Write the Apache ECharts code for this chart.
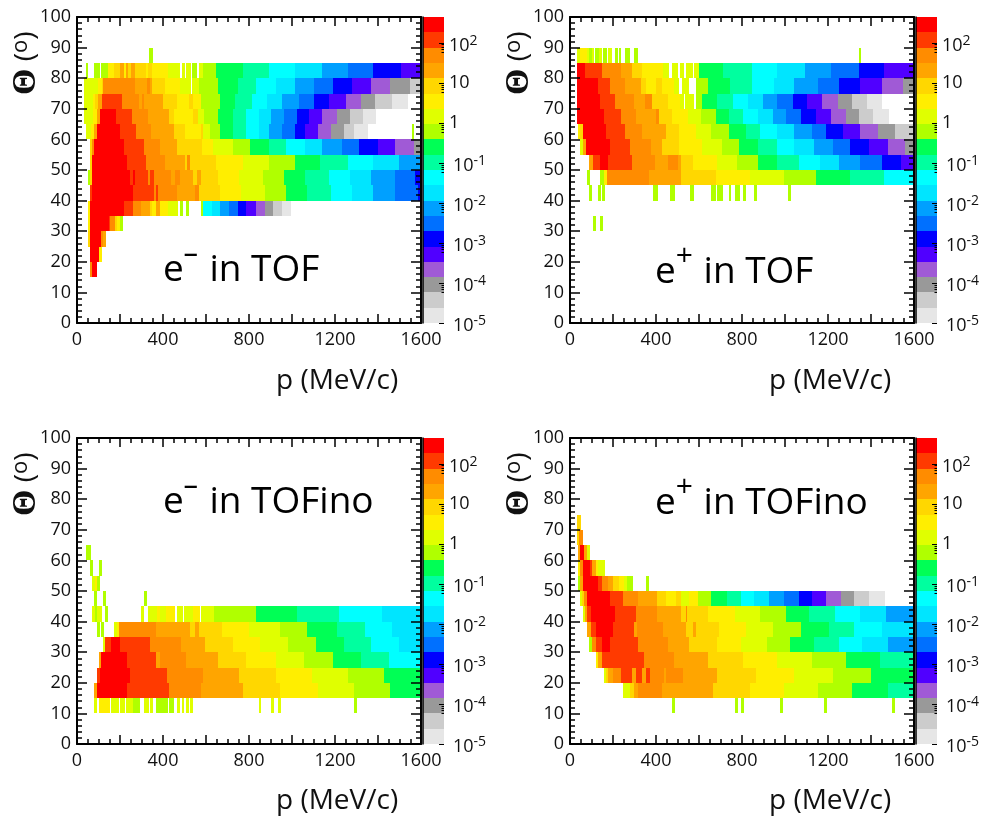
<!DOCTYPE html>
<html>
<head>
<meta charset="utf-8">
<style>html,body{margin:0;padding:0;background:#fff}#c{width:984px;height:817px}</style>
<script src="https://cdn.jsdelivr.net/npm/echarts@6/dist/echarts.min.js"></script>
</head>
<body>
<div id="c"></div>
<script>
// Each row: [theta bin low edge (deg), p edge, colour level, p edge, colour level, ..., p edge]; level -1 = empty
const eMinusTof = [
[85,337,12,353],
[80,40,12,50,-1,78,12,106,-1,112,12,143,14,171,15,199,16,217,14,230,16,239,15,252,16,270,15,320,14,329,15,348,14,424,13,478,-1,488,13,503,-1,509,13,519,-1,522,13,531,-1,537,12,559,-1,568,13,587,12,646,11,770,10,891,9,1013,8,1140,7,1259,6,1376,5,1506,4,1600],
[75,31,13,96,14,115,15,121,17,269,16,326,17,339,16,348,15,408,14,478,13,528,-1,537,13,568,12,655,11,749,10,832,9,926,8,1016,7,1103,6,1191,5,1280,4,1368,3,1457,2,1550,1,1600],
[70,31,13,75,14,84,15,99,16,118,18,208,17,289,16,304,17,311,16,401,15,466,14,522,15,540,14,575,12,665,11,736,10,814,9,885,8,954,7,1033,6,1103,5,1172,4,1252,3,1322,2,1387,1,1466,0,1541],
[65,31,13,75,14,93,16,106,19,180,18,258,17,329,16,426,15,453,14,540,15,565,13,593,12,655,11,727,10,786,9,848,8,901,7,963,6,1023,5,1079,4,1140,3,1210,2,1270,1,1331,0,1391],
[60,40,13,65,14,78,16,93,19,199,18,276,17,346,16,450,15,502,14,575,15,587,13,618,12,665,11,727,10,786,9,848,8,895,7,954,6,1014,5,1061,4,1121,3,1182,2,1242,1,1289,0,1354,-1,1559,12,1569],
[55,59,15,68,17,78,19,217,18,311,17,385,16,466,15,581,14,634,13,727,12,804,11,895,10,972,9,1061,8,1140,7,1233,6,1312,5,1401,4,1480,3,1569,2,1600],
[50,62,15,71,19,233,18,320,17,408,16,502,15,510,17,525,15,646,14,773,13,891,12,1013,11,1131,10,1261,9,1377,8,1499,7,1600],
[45,50,12,59,15,68,19,245,18,261,19,270,18,331,17,339,18,357,17,436,16,457,17,478,16,540,15,559,16,576,15,655,14,755,13,867,12,963,11,1061,10,1172,9,1270,8,1368,7,1480,6,1573,5,1600],
[40,59,18,68,19,261,18,357,17,366,18,376,17,463,16,548,17,567,15,665,14,764,13,874,12,972,11,1070,10,1182,9,1280,8,1377,7,1480,6,1585,5,1600],
[35,50,14,59,19,217,18,259,17,297,16,339,15,349,14,366,16,385,14,422,13,469,-1,478,12,494,-1,506,12,520,-1,576,12,585,9,627,8,665,7,707,6,749,5,786,4,832,3,874,2,912,1,954,0,995],
[30,50,14,59,19,148,18,155,17,175,15,186,14,199,12,213],
[25,50,15,59,19,110,17,121,16,134],
[20,59,19,101,14,115],
[15,59,17,68,19,92]
];
const ePlusTof = [
[85,33,13,48,14,79,13,90,12,103,13,112,-1,118,12,134,13,149,-1,154,12,173,-1,176,13,196,-1,209,12,224,-1,230,12,238,-1,258,12,277,-1,299,12,314,-1,1345,12,1354],
[80,33,19,72,18,149,17,235,16,289,15,336,14,433,13,461,-1,476,13,500,-1,510,13,531,-1,538,13,570,-1,576,13,598,11,713,10,845,9,962,8,1093,7,1214,6,1345,5,1461,4,1600],
[75,33,19,131,18,187,17,258,16,332,15,355,14,398,15,430,14,484,13,507,-1,520,13,554,-1,588,12,644,11,742,10,845,9,948,8,1041,7,1153,6,1251,5,1349,4,1452,3,1550,2,1600],
[70,33,19,140,18,210,17,299,16,350,17,380,15,458,14,510,13,531,-1,535,13,579,-1,588,12,616,11,686,10,756,9,826,8,896,7,962,6,1037,5,1102,4,1172,3,1247,2,1312,1,1382,0,1452],
[65,34,19,159,18,238,17,308,16,398,17,414,15,476,14,551,13,607,12,677,11,738,10,803,9,873,8,943,7,1004,6,1074,5,1144,4,1214,3,1284,2,1345,1,1410,0,1485],
[60,37,14,47,15,61,19,168,18,257,17,336,16,448,15,507,14,588,13,654,12,738,11,817,10,882,9,962,8,1041,7,1125,6,1191,5,1270,4,1349,3,1433,2,1513,1,1600],
[55,47,13,61,16,75,19,187,18,280,17,378,16,430,15,507,14,616,13,705,12,784,11,873,10,962,9,1041,8,1135,7,1223,6,1303,5,1391,4,1480,3,1559,2,1600],
[50,90,16,107,18,140,19,177,18,289,17,397,16,458,17,500,16,517,15,574,14,686,13,775,12,873,11,962,10,1065,9,1163,8,1251,7,1349,6,1452,5,1541,4,1600],
[45,79,12,93,-1,140,12,159,14,173,17,367,16,518,15,677,14,836,13,995,12,1144,11,1303,10,1461,9,1600],
[40,89,12,103,-1,131,12,143,-1,149,12,163,-1,388,12,411,-1,467,12,490,-1,556,12,579,-1,654,12,677,-1,686,12,710,-1,738,12,747,-1,766,12,789,-1,803,12,817,-1,854,12,868,-1,1013,12,1027],
[30,107,12,121,-1,140,12,154]
];
const eMinusTofino = [
[60,40,12,64],
[55,59,12,73,-1,101,12,115],
[50,70,13,82,14,93,12,106],
[45,78,12,92,-1,120,12,134,-1,311,12,325],
[40,68,13,82,12,92,13,115,-1,129,12,143,-1,297,13,311,-1,329,13,370,14,385,13,416,14,455,-1,463,13,494,-1,497,13,540,14,571,-1,576,13,637,12,832,11,1023,10,1219,9,1419,8,1600],
[35,92,12,106,-1,110,12,124,-1,171,13,185,14,194,17,366,16,525,15,548,16,567,15,674,14,801,13,944,12,1070,11,1210,10,1340,9,1466,8,1600],
[30,120,13,129,18,157,19,199,18,339,17,486,16,595,15,725,14,851,13,981,12,1112,11,1242,10,1368,9,1499,8,1600],
[25,101,16,110,19,231,18,366,16,385,17,506,16,655,15,786,14,926,13,1056,12,1191,11,1322,10,1452,9,1600],
[20,92,18,106,19,245,18,418,17,585,16,753,15,926,14,1093,13,1261,12,1429,11,1600],
[15,78,16,92,19,231,18,427,17,576,16,772,15,944,14,1121,13,1289,12,1457,11,1600],
[10,78,13,92,-1,101,14,152,-1,157,13,194,-1,199,13,222,-1,227,13,261,12,292,-1,311,13,334,-1,339,13,353,-1,366,12,422,-1,427,12,450,-1,464,13,478,-1,488,13,497,-1,506,13,520,-1,525,13,539,-1,846,13,856,-1,902,13,916,-1,935,13,949,-1,1289,12,1303]
];
const ePlusTofino = [
[70,33,15,51],
[65,33,15,42,17,61],
[60,37,16,47,19,65,16,79,13,93],
[55,37,14,48,17,59,19,93,18,103,16,121,14,131,13,163],
[50,37,12,47,16,62,19,131,18,149,17,177,16,201,15,229,14,252,13,266,12,294,-1,355,12,369],
[45,47,13,56,15,65,17,79,19,187,18,247,17,317,16,406,15,448,14,492,15,518,13,554,14,597,12,654,11,728,10,794,9,854,8,924,7,994,6,1064,5,1125,4,1190,3,1260,2,1321,1,1391,0,1466],
[40,61,13,72,16,79,18,98,19,210,18,308,17,406,16,518,15,538,17,546,15,644,14,766,13,882,12,1004,11,1111,10,1232,9,1349,8,1470,7,1600],
[35,79,16,98,18,121,19,201,18,299,16,313,17,434,16,538,15,570,16,588,15,695,14,817,13,943,12,1074,11,1204,10,1321,9,1452,8,1600],
[30,89,12,103,17,121,18,149,19,187,18,317,17,457,16,555,15,686,14,794,13,915,12,1022,11,1134,10,1251,9,1358,8,1480,7,1600],
[25,121,14,131,16,149,18,345,17,485,16,644,15,803,14,962,13,1125,12,1284,11,1442,10,1600],
[20,159,13,168,15,177,16,199,17,238,18,289,16,308,18,336,16,355,18,373,17,439,16,448,17,527,16,686,15,863,14,1041,13,1223,12,1400,11,1600],
[15,247,13,280,15,299,16,317,17,429,16,663,15,836,14,994,13,1153,12,1312,11,1480,10,1600],
[10,476,12,490,-1,766,12,780,-1,794,12,808,-1,976,12,990,-1,1181,12,1195,-1,1498,12,1512]
];
const thetaBinWidth = 5;
const levelColors = ['#e6e6e6','#cccccc','#999999','#a05ad6','#5000ff','#0000ff','#0070ff','#00a0ff','#00e5ff','#00ffff','#00ff9f','#00ff55','#b0ff00','#e0ff00','#ffee00','#ffd700','#ffa500','#ff8c00','#ff3a00','#ff0000'];
const colourMin = 1e-5;
const colourMax = 437;
const decadeTicks = [1e-5,1e-4,1e-3,1e-2,1e-1,1,10,100];
const minorMultipliers = [6,7,8,9];
const xLabelValues = [0,400,800,1200,1600];

const panels = [
  {rows:eMinusTof, x:77, y:17, sup:'¯', name:' in TOF', tx:163, ty:294, supS:'m'},
  {rows:ePlusTof, x:570, y:17, sup:'+', name:' in TOF', tx:655, ty:303, supS:'p'},
  {rows:eMinusTofino, x:77, y:438, sup:'¯', name:' in TOFino', tx:163, ty:526, supS:'m'},
  {rows:ePlusTofino, x:570, y:438, sup:'+', name:' in TOFino', tx:655, ty:534, supS:'p'}
];
const W = 344, H = 306;
const FONT = '"Open Sans", sans-serif';
const INK = '#111';

const grid=[], xAxis=[], yAxis=[], series=[], graphic=[];
function supLabel(v){
  if (v===1) return '{c|1}';
  if (v===10) return '{c|10}';
  const e=Math.round(Math.log10(v));
  return e<0 ? '{n|10}{s|'+e+'}' : '{b|10}{s|'+e+'}';
}
const logStep=(Math.log10(colourMax)-Math.log10(colourMin))/levelColors.length;
const levelRows=levelColors.map((c,i)=>[0,1,Math.pow(10,Math.log10(colourMin)+i*logStep),Math.pow(10,Math.log10(colourMin)+(i+1)*logStep),i]);
const tickRows=[];
decadeTicks.forEach(d=>{tickRows.push([d,1]);minorMultipliers.forEach(m=>{const v=d*m/10;if(v>=colourMin)tickRows.push([v,0]);});});

panels.forEach((pn,i)=>{
  const gi=i*2, axisIdx=i*3;
  grid.push({left:pn.x,top:pn.y,width:W,height:H});
  grid.push({left:pn.x+W+2,top:pn.y,width:21,height:H});
  const xCommon={type:'value',min:0,max:1600,interval:200,gridIndex:gi,z:6,
    axisLine:{show:true,onZero:false,lineStyle:{color:'#000',width:2}},
    axisTick:{show:true,inside:true,length:9,lineStyle:{color:'#000',width:1.5}},
    minorTick:{show:true,splitNumber:4,length:5,lineStyle:{color:'#000',width:1.5}},
    splitLine:{show:false},minorSplitLine:{show:false}};
  const yCommon={type:'value',min:0,max:100,interval:10,gridIndex:gi,z:6,
    axisLine:{show:true,onZero:false,lineStyle:{color:'#000',width:2}},
    axisTick:{show:true,inside:true,length:10,lineStyle:{color:'#000',width:1.5}},
    minorTick:{show:true,splitNumber:5,length:5,lineStyle:{color:'#000',width:1.5}},
    splitLine:{show:false},minorSplitLine:{show:false}};
  xAxis.push(Object.assign({},xCommon,{position:'bottom',
    axisLabel:{show:true,margin:8,color:INK,fontFamily:FONT,fontSize:18,
      formatter:v=>xLabelValues.indexOf(v)>=0?String(v):''}}));
  xAxis.push(Object.assign({},xCommon,{position:'top',axisLabel:{show:false}}));
  xAxis.push({type:'value',min:0,max:1,gridIndex:gi+1,show:false});
  yAxis.push(Object.assign({},yCommon,{position:'left',
    axisLabel:{show:true,margin:6,color:INK,fontFamily:FONT,fontSize:18}}));
  yAxis.push(Object.assign({},yCommon,{position:'right',axisLabel:{show:false}}));
  yAxis.push({type:'log',logBase:10,min:colourMin,max:colourMax,gridIndex:gi+1,position:'right',z:6,
    axisLine:{show:true,lineStyle:{color:'#000',width:1.5}},
    axisTick:{show:false},minorTick:{show:false},splitLine:{show:false},
    axisLabel:{show:true,margin:5,color:INK,fontFamily:FONT,fontSize:18,
      showMinLabel:true,showMaxLabel:false,
      formatter:v=>decadeTicks.some(d=>Math.abs(Math.log10(d)-Math.log10(v))<1e-6)?supLabel(v):'',
      rich:{b:{fontFamily:FONT,fontSize:18,color:INK,padding:[6,0,0,0]},
            c:{fontFamily:FONT,fontSize:18,color:INK},
            n:{fontFamily:FONT,fontSize:18,color:INK,padding:[6,0,0,4]},
            s:{fontFamily:FONT,fontSize:14,color:INK,padding:[0,0,4,0]}}}});
  // heat map cells
  const cells=[];
  pn.rows.forEach(r=>{
    const th=r[0];
    for(let k=1;k+2<r.length;k+=2){
      if(r[k+1]>=0) cells.push([r[k],r[k+2],th,th+thetaBinWidth,r[k+1]]);
    }
  });
  series.push({type:'custom',coordinateSystem:'cartesian2d',xAxisIndex:axisIdx,yAxisIndex:axisIdx,silent:true,z:2,
    animation:false,clip:false,encode:{x:[0,1],y:[2,3]},data:cells,
    renderItem:(params,api)=>{
      const a=api.coord([api.value(0),api.value(3)]),b=api.coord([api.value(1),api.value(2)]);
      const x0=Math.round(a[0]),y0=Math.round(a[1]),x1=Math.round(b[0]),y1=Math.round(b[1]);
      return {type:'rect',shape:{x:x0,y:y0,width:Math.max(1,x1-x0),height:y1-y0},
        style:{fill:levelColors[api.value(4)]}};
    }});
  // colour bar
  series.push({type:'custom',coordinateSystem:'cartesian2d',xAxisIndex:axisIdx+2,yAxisIndex:axisIdx+2,silent:true,z:2,
    animation:false,encode:{x:[0,1],y:[2,3]},data:levelRows,
    renderItem:(params,api)=>{
      const a=api.coord([api.value(0),api.value(3)]),b=api.coord([api.value(1),api.value(2)]);
      return {type:'rect',shape:{x:Math.round(a[0]),y:Math.round(a[1]),width:Math.round(b[0])-Math.round(a[0]),height:Math.round(b[1])-Math.round(a[1])},
        style:{fill:levelColors[api.value(4)]}};
    }});
  series.push({type:'custom',coordinateSystem:'cartesian2d',xAxisIndex:axisIdx+2,yAxisIndex:axisIdx+2,silent:true,z:4,
    animation:false,encode:{y:0},data:tickRows,
    renderItem:(params,api)=>{
      const p=api.coord([1,api.value(0)]),len=api.value(1)?5:2.5,y=Math.round(p[1])+0.5;
      return {type:'line',shape:{x1:p[0],y1:y,x2:p[0]-len,y2:y},style:{stroke:'#000',lineWidth:1}};
    }});
  // panel title
  graphic.push({type:'text',x:pn.tx,y:pn.ty,z:20,silent:true,style:{
    text:'{e|e}{'+pn.supS+'|'+pn.sup+'}{e|'+pn.name+'}',
    verticalAlign:'bottom',align:'left',
    rich:{e:{fontFamily:FONT,fontSize:37,fill:'#000',color:'#000',lineHeight:48},
          m:{fontFamily:FONT,fontSize:24,fontWeight:'bold',fill:'#000',color:'#000',padding:[0,3,6,1]},
          p:{fontFamily:FONT,fontSize:30,fill:'#000',color:'#000',padding:[0,1,32,0]}}}});
  // axis names
  graphic.push({type:'text',x:pn.x+199,y:pn.y+378-(i>1?1:0),z:20,silent:true,style:{
    text:'p (MeV/c)',fontFamily:FONT,fontSize:28,fill:'#111',align:'left',verticalAlign:'bottom'}});
  graphic.push({type:'text',x:pn.x-51,y:pn.y+78,rotation:Math.PI/2,z:20,silent:true,style:{
    text:'{t|Θ} {r|(}{o|o}{r|)}',align:'left',verticalAlign:'middle',fontFamily:FONT,fontSize:28,fill:'#111',
    rich:{t:{fontFamily:'"Liberation Serif"',fontWeight:'bold',fontSize:34,fill:'#111',color:'#111'},
          r:{fontFamily:FONT,fontSize:28,fill:'#111',color:'#111'},
          o:{fontFamily:FONT,fontSize:22,fill:'#111',color:'#111',padding:[0,0,10,0]}}}});
});

const chart=echarts.init(document.getElementById('c'),null,{renderer:'canvas'});
chart.setOption({animation:false,backgroundColor:'#fff',grid,xAxis,yAxis,series,graphic});
</script>
</body>
</html>
